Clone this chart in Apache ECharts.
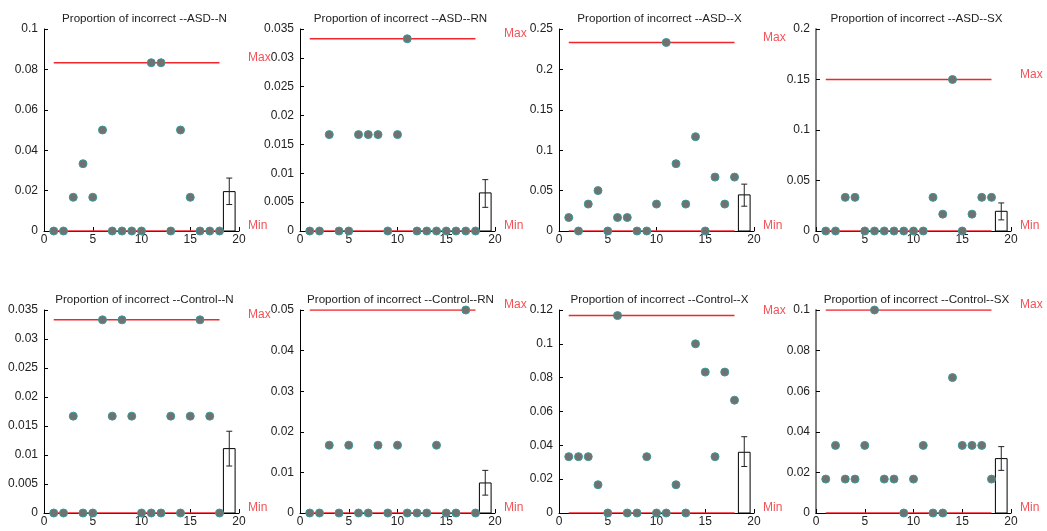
<!DOCTYPE html>
<html>
<head>
<meta charset="utf-8">
<title>Proportion of incorrect</title>
<script src="https://cdn.jsdelivr.net/npm/echarts@6/dist/echarts.min.js"></script>
<style>
  html, body { margin: 0; padding: 0; background: #fff; }
  #chart { width: 1047px; height: 531px; }
</style>
</head>
<body>
<div id="chart"></div>
<script>
// panel titles
const titles = [
  'Proportion of incorrect --ASD--N',
  'Proportion of incorrect --ASD--RN',
  'Proportion of incorrect --ASD--X',
  'Proportion of incorrect --ASD--SX',
  'Proportion of incorrect --Control--N',
  'Proportion of incorrect --Control--RN',
  'Proportion of incorrect --Control--X',
  'Proportion of incorrect --Control--SX'
]

// subjects 1..18
const subjects = [1, 2, 3, 4, 5, 6, 7, 8, 9, 10, 11, 12, 13, 14, 15, 16, 17, 18]

// proportion incorrect per subject
const asdN = [0, 0, 0.0167, 0.0333, 0.0167, 0.05, 0, 0, 0, 0, 0.0833, 0.0833, 0, 0.05, 0.0167, 0, 0, 0]
const asdRN = [0, 0, 0.0167, 0, 0, 0.0167, 0.0167, 0.0167, 0, 0.0167, 0.0333, 0, 0, 0, 0, 0, 0, 0]
const asdX = [0.0167, 0, 0.0333, 0.05, 0, 0.0167, 0.0167, 0, 0, 0.0333, 0.2333, 0.0833, 0.0333, 0.1167, 0, 0.0667, 0.0333, 0.0667]
const asdSX = [0, 0, 0.0333, 0.0333, 0, 0, 0, 0, 0, 0, 0, 0.0333, 0.0167, 0.15, 0, 0.0167, 0.0333, 0.0333]
const ctrlN = [0, 0, 0.0167, 0, 0, 0.0333, 0.0167, 0.0333, 0.0167, 0, 0, 0, 0.0167, 0, 0.0167, 0.0333, 0.0167, 0]
const ctrlRN = [0, 0, 0.0167, 0, 0.0167, 0, 0, 0.0167, 0, 0.0167, 0, 0, 0, 0.0167, 0, 0, 0.05, 0]
const ctrlX = [0.0333, 0.0333, 0.0333, 0.0167, 0, 0.1167, 0, 0, 0.0333, 0, 0, 0.0167, 0, 0.1, 0.0833, 0.0333, 0.0833, 0.0667]
const ctrlSX = [0.0167, 0.0333, 0.0167, 0.0167, 0.0333, 0.1, 0.0167, 0.0167, 0, 0.0167, 0.0333, 0, 0, 0.0667, 0.0333, 0.0333, 0.0333, 0.0167]
const panelPoints = [asdN, asdRN, asdX, asdSX, ctrlN, ctrlRN, ctrlX, ctrlSX]

// mean bar at x = 19 with error bar
const barX = 19
const barMeans = [0.0195, 0.0066, 0.0447, 0.0195, 0.0111, 0.0074, 0.0359, 0.0268]
const errLow = [0.0131, 0.0041, 0.0307, 0.011, 0.0081, 0.0044, 0.0275, 0.021]
const errHigh = [0.0262, 0.0089, 0.058, 0.0278, 0.0141, 0.0105, 0.0451, 0.0327]

// Max / Min reference lines
const maxLines = [0.0833, 0.0333, 0.2333, 0.15, 0.0333, 0.05, 0.1167, 0.1]
const minLines = [0, 0, 0, 0, 0, 0, 0, 0]

// y axis ranges
const yMaxes = [0.1, 0.035, 0.25, 0.2, 0.035, 0.05, 0.12, 0.1]
const yIntervals = [0.02, 0.005, 0.05, 0.05, 0.005, 0.01, 0.02, 0.02]

const RED = '#f0262c'
const FONT = '"Liberation Sans", Arial, sans-serif'
const lefts = [44, 300, 559, 816]
const tops = [29, 310]
const heights = [202, 203]
const W = 195

const chart = echarts.init(document.getElementById('chart'))

const grid = [], xAxis = [], yAxis = [], title = [], series = []

titles.forEach((t, i) => {
  const col = i % 4, row = Math.floor(i / 4)
  grid.push({ left: lefts[col], top: tops[row], width: W, height: heights[row] })
  title.push({
    text: t,
    left: lefts[col] + W / 2 - 2,
    top: row === 0 ? 8 : 289,
    textAlign: 'center',
    textStyle: { fontSize: 11.6, fontWeight: 'normal', color: '#222', fontFamily: FONT }
  })
  xAxis.push({
    gridIndex: i, type: 'value', min: 0, max: 20, interval: 5,
    axisLine: { onZero: false, lineStyle: { color: '#000', width: 1 } },
    axisTick: { inside: true, length: 4, lineStyle: { color: '#000' } },
    axisLabel: { color: '#222', fontSize: 12, margin: 3, fontFamily: FONT },
    splitLine: { show: false }
  })
  // last column has a grey, heavier y axis in the source figure
  const yLine = col === 3 ? { color: '#808080', width: 2 } : { color: '#000', width: 1 }
  yAxis.push({
    gridIndex: i, type: 'value', min: 0, max: yMaxes[i], interval: yIntervals[i],
    axisLine: { show: true, lineStyle: yLine },
    axisTick: { show: true, inside: true, length: 4, lineStyle: { color: '#000' } },
    axisLabel: { color: '#222', fontSize: 12, margin: 6, fontFamily: FONT },
    splitLine: { show: false }
  })

  // reference lines
  series.push({
    type: 'line', xAxisIndex: i, yAxisIndex: i, symbol: 'none', silent: true,
    data: [[subjects[0], maxLines[i]], [subjects[subjects.length - 1], maxLines[i]]],
    lineStyle: { color: RED, width: 1.5 }, z: 2
  })
  series.push({
    type: 'line', xAxisIndex: i, yAxisIndex: i, symbol: 'none', silent: true,
    data: [[subjects[0], minLines[i]], [subjects[subjects.length - 1], minLines[i]]],
    lineStyle: { color: RED, width: 1.5 }, z: 2
  })

  // Max / Min text at right edge
  series.push({
    type: 'scatter', xAxisIndex: i, yAxisIndex: i, symbolSize: 0, silent: true,
    data: [[20, maxLines[i], 'Max'], [20, minLines[i], 'Min']],
    label: {
      show: true, position: 'right', distance: 9, offset: [0, -5],
      formatter: p => p.value[2], color: RED, fontSize: 12, fontFamily: FONT
    }
  })

  // mean bar
  series.push({
    type: 'custom', xAxisIndex: i, yAxisIndex: i, silent: true,
    data: [[barX, barMeans[i]]],
    renderItem: (params, api) => {
      const x = api.value(0), y = api.value(1)
      const p0 = api.coord([x - 0.6, 0])
      const p1 = api.coord([x + 0.6, y])
      return {
        type: 'rect',
        shape: { x: p0[0], y: p1[1], width: p1[0] - p0[0], height: p0[1] - p1[1] },
        style: { fill: '#fff', stroke: '#000', lineWidth: 1 }
      }
    },
    z: 3
  })

  // error bar
  series.push({
    type: 'custom', xAxisIndex: i, yAxisIndex: i, silent: true,
    data: [[barX, errLow[i], errHigh[i]]],
    renderItem: (params, api) => {
      const lo = api.coord([api.value(0), api.value(1)])
      const hi = api.coord([api.value(0), api.value(2)])
      const style = { stroke: '#222', lineWidth: 1 }
      return {
        type: 'group',
        children: [
          { type: 'line', shape: { x1: lo[0], y1: lo[1], x2: hi[0], y2: hi[1] }, style },
          { type: 'line', shape: { x1: lo[0] - 3, y1: lo[1], x2: lo[0] + 3, y2: lo[1] }, style },
          { type: 'line', shape: { x1: hi[0] - 3, y1: hi[1], x2: hi[0] + 3, y2: hi[1] }, style }
        ]
      }
    },
    z: 4
  })

  // subject points
  series.push({
    type: 'scatter', xAxisIndex: i, yAxisIndex: i, silent: true,
    data: subjects.map((s, k) => [s, panelPoints[i][k]]),
    symbol: 'circle', symbolSize: 8,
    itemStyle: { color: '#717171', borderColor: '#3a9a97', borderWidth: 1, opacity: 1 },
    clip: false,
    z: 5
  })
})

chart.setOption({
  animation: false,
  textStyle: { fontFamily: FONT },
  title, grid, xAxis, yAxis, series
})
</script>
</body>
</html>
